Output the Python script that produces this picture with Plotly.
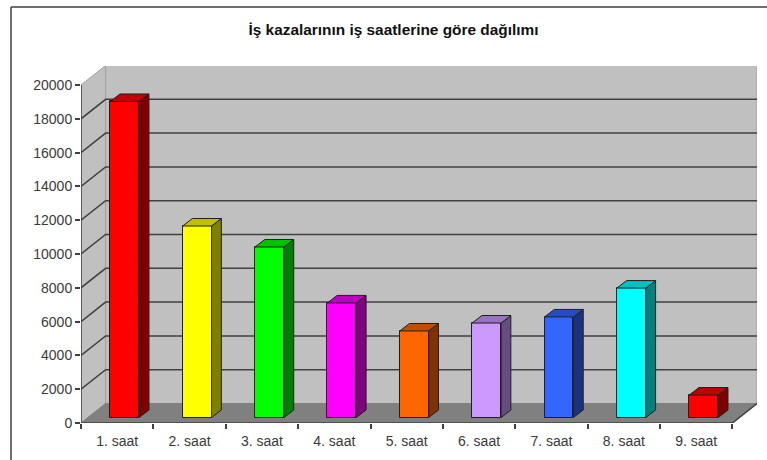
import plotly.graph_objects as go

title = "İş kazalarının iş saatlerine göre dağılımı"
categories = ["1. saat", "2. saat", "3. saat", "4. saat", "5. saat", "6. saat", "7. saat", "8. saat", "9. saat"]
values = [18700, 11330, 10090, 6780, 5120, 5590, 5950, 7660, 1330]
y_ticks = [0, 2000, 4000, 6000, 8000, 10000, 12000, 14000, 16000, 18000, 20000]

front_colors = ["#ff0000", "#ffff00", "#00ff00", "#ff00ff", "#ff6600", "#cc99ff", "#3366ff", "#00ffff", "#ff0000"]
side_colors = ["#800000", "#808000", "#008000", "#800080", "#803300", "#664d80", "#1a3380", "#008080", "#800000"]
top_colors = ["#c00000", "#c0c000", "#00c000", "#c000c0", "#c04d00", "#9973c0", "#264dc0", "#00c0c0", "#c00000"]

# fake 3d: depth expressed in axis units
wall_dx, wall_dy = 0.34, 1154
bar_x_off, bar_base = 0.104, 325
bar_w = 0.40
bar_dx, bar_dy = 0.135, 444
edge = "#202020"

x_left, x_right = -0.5, len(categories) - 0.5
x_pos = list(range(len(categories)))

W, H = 767, 460
L, R, T, B = 81, 10, 66, 37


def path(points):
    return "M " + " L ".join(f"{x},{y}" for x, y in points) + " Z"


shapes = [
    # back wall, side wall, floor
    dict(type="path", path=path([(x_left + wall_dx, wall_dy), (x_right + wall_dx, wall_dy),
                                 (x_right + wall_dx, y_ticks[-1] + wall_dy), (x_left + wall_dx, y_ticks[-1] + wall_dy)]),
         fillcolor="#c0c0c0", line=dict(color="#a0a0a0", width=1), layer="below"),
    dict(type="path", path=path([(x_left, 0), (x_left + wall_dx, wall_dy),
                                 (x_left + wall_dx, y_ticks[-1] + wall_dy), (x_left, y_ticks[-1])]),
         fillcolor="#c0c0c0", line=dict(color="#a0a0a0", width=1), layer="below"),
    dict(type="path", path=path([(x_left, 0), (x_right, 0), (x_right + wall_dx, wall_dy), (x_left + wall_dx, wall_dy)]),
         fillcolor="#808080", line=dict(color="#808080", width=1), layer="below"),
]
for tick in y_ticks[1:-1]:
    shapes.append(dict(type="path",
                       path=f"M {x_left},{tick} L {x_left + wall_dx},{tick + wall_dy} L {x_right + wall_dx},{tick + wall_dy}",
                       line=dict(color="#404040", width=1.5), layer="below"))

# page frame of the original screenshot
px = lambda v: (v - L) / (W - L - R)
py = lambda v: (H - B - v) / (H - T - B)
shapes.append(dict(type="line", xref="paper", yref="paper", x0=px(11), x1=px(767), y0=py(7), y1=py(7),
                   line=dict(color="#404040", width=1.5)))
shapes.append(dict(type="line", xref="paper", yref="paper", x0=px(11), x1=px(11), y0=py(7), y1=py(460),
                   line=dict(color="#404040", width=1.5)))

fig = go.Figure()
fig.add_trace(go.Bar(
    x=[x + bar_x_off for x in x_pos], y=values, base=bar_base, width=bar_w,
    marker=dict(color=front_colors, line=dict(color=edge, width=1)),
    showlegend=False, hoverinfo="skip",
))

for x, v, side, top in zip(x_pos, values, side_colors, top_colors):
    x0 = x + bar_x_off - bar_w / 2
    x1 = x + bar_x_off + bar_w / 2
    y1 = bar_base + v
    fig.add_trace(go.Scatter(
        x=[x1, x1 + bar_dx, x1 + bar_dx, x1, x1],
        y=[bar_base, bar_base + bar_dy, y1 + bar_dy, y1, bar_base],
        fill="toself", fillcolor=side, mode="lines", line=dict(color=edge, width=1),
        showlegend=False, hoverinfo="skip",
    ))
    fig.add_trace(go.Scatter(
        x=[x0, x0 + bar_dx, x1 + bar_dx, x1, x0],
        y=[y1, y1 + bar_dy, y1 + bar_dy, y1, y1],
        fill="toself", fillcolor=top, mode="lines", line=dict(color=edge, width=1),
        showlegend=False, hoverinfo="skip",
    ))

# axis lines, the value axis stops at the last tick
fig.add_trace(go.Scatter(x=[x_left, x_left], y=[0, y_ticks[-1]], mode="lines", cliponaxis=False,
                         line=dict(color="#404040", width=1.5), showlegend=False, hoverinfo="skip"))
fig.add_trace(go.Scatter(x=[x_left, x_right, x_right + wall_dx], y=[0, 0, wall_dy], mode="lines", cliponaxis=False,
                         line=dict(color="#404040", width=1.5), showlegend=False, hoverinfo="skip"))

fig.update_layout(
    width=W, height=H,
    margin=dict(l=L, r=R, t=T, b=B, autoexpand=False),
    paper_bgcolor="#ffffff", plot_bgcolor="#ffffff",
    font=dict(family="Liberation Sans", size=14, color="#3a3a3a"),
    title=dict(text=f"<b>{title}</b>", x=(249 + 538) / 2 / W, xanchor="center", y=1 - 30 / H, yanchor="middle",
               font=dict(size=15.4, color="#111111")),
    shapes=shapes,
    bargap=0,
)
fig.update_xaxes(
    range=[x_left, x_right + wall_dx], tickmode="array", tickvals=x_pos, ticktext=categories,
    ticks="", showgrid=False, zeroline=False, showline=False, ticklabelstandoff=8,
    minor=dict(tickmode="array", tickvals=[x_left + i for i in range(len(categories) + 1)], ticks="outside",
               ticklen=5, tickcolor="#404040", tickwidth=1.5, showgrid=False),
)
fig.update_yaxes(
    range=[0, (H - T - B) / 338 * y_ticks[-1]], tickmode="array", tickvals=y_ticks, tickformat="d",
    ticks="outside", ticklen=5, tickcolor="#404040", tickwidth=1.5,
    showgrid=False, zeroline=False, showline=False,
)

# drop the default body margin so the figure sits at the page corner
fig.write_html("out.html", config=dict(displayModeBar=False),
               post_script="document.body.style.margin='0';document.body.style.overflow='hidden';")
